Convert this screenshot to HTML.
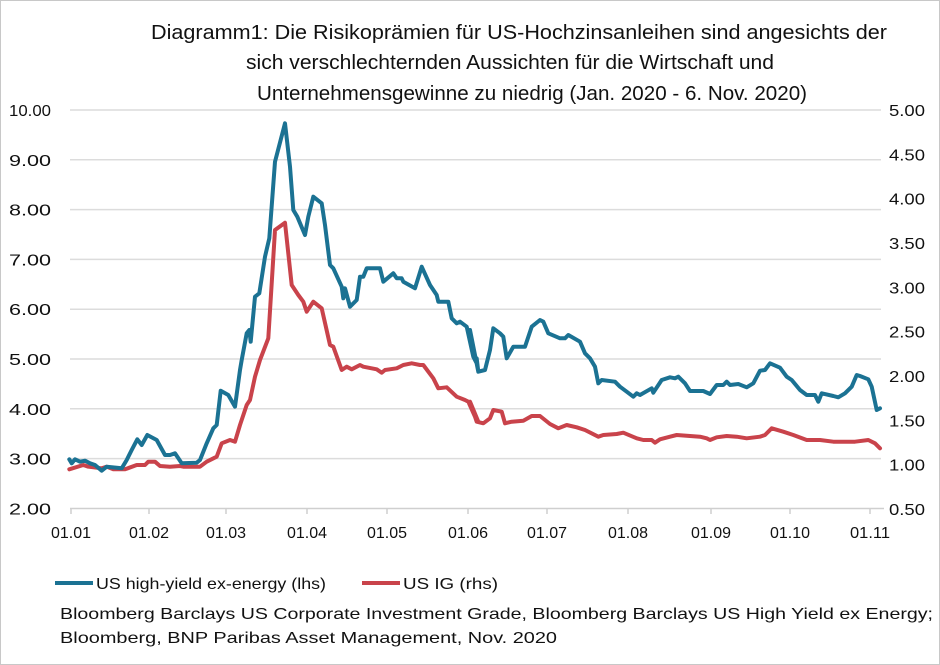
<!DOCTYPE html>
<html><head><meta charset="utf-8">
<style>
html,body{margin:0;padding:0;background:#fff;}
svg{display:block;}
text{font-family:"Liberation Sans",sans-serif;fill:#111;}
</style></head>
<body>
<svg id="s" width="940" height="665" viewBox="0 0 940 665" xmlns="http://www.w3.org/2000/svg">
<rect x="0.5" y="0.5" width="939" height="664" fill="#fff" stroke="#c8c8c8" stroke-width="1"/>
<g font-size="20.5" text-anchor="middle">
<text x="519" y="39" textLength="736" lengthAdjust="spacingAndGlyphs">Diagramm1: Die Risikoprämien für US-Hochzinsanleihen sind angesichts der</text>
<text x="510" y="69" textLength="528" lengthAdjust="spacingAndGlyphs">sich verschlechternden Aussichten für die Wirtschaft und</text>
<text x="532" y="100" textLength="550" lengthAdjust="spacingAndGlyphs">Unternehmensgewinne zu niedrig (Jan. 2020 - 6. Nov. 2020)</text>
</g>
<g id="grid" stroke="#dcdcdc" stroke-width="1.5"></g>
<g id="lbl" font-size="16"></g>
<g fill="none" stroke-linejoin="round" stroke-linecap="round" stroke-width="4">
<polyline id="red" stroke="#c9434b"/>
<polyline id="blue" stroke="#1b7293"/>
</g>
<line x1="55" y1="583" x2="93" y2="583" stroke="#1b7293" stroke-width="4"/>
<text x="96" y="589" font-size="16" textLength="230" lengthAdjust="spacingAndGlyphs">US high-yield ex-energy (lhs)</text>
<line x1="362" y1="583" x2="400" y2="583" stroke="#c9434b" stroke-width="4"/>
<text x="403" y="589" font-size="16" textLength="95" lengthAdjust="spacingAndGlyphs">US IG (rhs)</text>
<text x="60" y="619" font-size="16" textLength="873" lengthAdjust="spacingAndGlyphs">Bloomberg Barclays US Corporate Investment Grade,  Bloomberg Barclays US High Yield ex Energy;</text>
<text x="60" y="643" font-size="16" textLength="497" lengthAdjust="spacingAndGlyphs">Bloomberg, BNP Paribas Asset Management, Nov. 2020</text>
</svg>
<script>
var NS="http://www.w3.org/2000/svg";
function el(p,t,a,txt){var e=document.createElementNS(NS,t);for(var k in a)e.setAttribute(k,a[k]);if(txt)e.textContent=txt;p.appendChild(e);return e;}
var g=document.getElementById("grid"),L=document.getElementById("lbl");
for(var i=0;i<=8;i++){var y=110+i*49.8;
 if(i<8)el(g,"line",{x1:70,x2:881,y1:y,y2:y});
 el(L,"text",{x:51,y:y+6,"text-anchor":"end",textLength:42,lengthAdjust:"spacingAndGlyphs"},(10-i).toFixed(2));}
for(var j=0;j<=9;j++){var y2=110+j*44.33;
 el(L,"text",{x:889,y:y2+6,textLength:36,lengthAdjust:"spacingAndGlyphs"},(5-j*0.5).toFixed(2));}
el(g,"line",{x1:70,x2:884,y1:508.5,y2:508.5,stroke:"#cfcfcf"});
var tx=[71,149,226,307,387,468,547,628,711,790,870];
tx.forEach(function(x,i){el(g,"line",{x1:x,x2:x,y1:508,y2:514,stroke:"#cfcfcf"});
 var m=i+1;el(L,"text",{x:x,y:538,"text-anchor":"middle",textLength:40,lengthAdjust:"spacingAndGlyphs"},"01."+(m<10?"0"+m:m));});
function pts(a,ox,oy){var s=[];for(var i=0;i<a.length;i+=2)s.push((ox+a[i]/3).toFixed(1)+","+(oy+a[i+1]/3).toFixed(1));return s;}
var b1=[28,1078,35,1090,45,1078,60,1085,75,1082,90,1090,105,1095,125,1112,140,1100,185,1105,200,1080,215,1050,232,1018,245,1035,262,1005,290,1020,315,1065,330,1065,345,1060,365,1090,410,1088,420,1080,440,1030,460,985,470,975,482,872,505,885,525,920,540,810,545,780,560,700,568,690,572,725,585,590,598,580,615,470,628,415,645,185,675,70,690,200,700,330,712,350,735,405,745,350,760,290,785,310,795,375,810,495,820,505,845,560,850,595,855,565,870,620,890,600,900,530,910,530,920,505,960,505,970,545,1000,520,1010,535,1025,535,1030,545,1065,565,1085,500,1110,555,1130,585,1135,605,1165,605,1175,655,1190,670,1200,665,1220,680,1240,770,1250,790,1255,815];
var b2=[0,690,10,770,20,775,25,815,45,810,60,750,70,685,90,700,100,710,110,775,130,740,165,740,185,680,210,660,220,665,235,700,270,715,285,715,295,705,330,725,345,760,360,775,375,800,385,850,395,840,435,845,450,860,470,875,490,890,500,880,510,885,545,865,550,878,575,840,600,832,615,835,625,830,645,850,660,873,700,873,720,882,740,855,760,855,770,845,780,855,805,852,830,862,850,850,870,812,885,810,900,790,930,803,950,830,965,840,990,870,1010,885,1035,885,1045,905,1055,880,1090,888,1105,892,1125,880,1145,860,1160,825,1170,828,1195,838,1205,860,1220,930,1230,925];
var r1=[28,1108,70,1095,85,1100,125,1105,140,1100,160,1108,195,1108,230,1095,255,1095,265,1085,285,1085,300,1098,330,1100,360,1098,370,1100,420,1100,440,1085,470,1070,485,1030,510,1020,525,1025,540,975,560,915,570,900,585,830,600,780,625,715,645,390,675,368,695,555,715,585,730,605,740,635,760,605,785,625,810,735,820,740,845,810,860,800,875,808,900,795,910,800,950,808,965,818,975,810,1010,805,1030,795,1055,790,1080,795,1090,795,1120,835,1135,865,1160,862,1190,890,1215,900,1225,905,1245,950,1255,965];
var r2=[0,905,20,965,40,970,60,955,70,930,95,935,105,970,125,965,160,962,185,948,210,948,240,972,265,985,290,975,320,982,345,990,385,1010,400,1005,440,1002,460,998,500,1015,520,1020,545,1020,555,1028,570,1018,600,1010,620,1005,660,1008,690,1010,710,1015,720,1020,740,1012,770,1008,800,1010,830,1015,870,1010,885,1005,905,985,940,995,970,1005,1010,1020,1050,1020,1090,1025,1155,1025,1195,1020,1215,1030,1230,1045];
document.getElementById("blue").setAttribute("points",pts(b1,60,100).concat(pts(b2,470,100)).join(" "));
document.getElementById("red").setAttribute("points",pts(r1,60,100).concat(pts(r2,470,100)).join(" "));
</script>
</body></html>
